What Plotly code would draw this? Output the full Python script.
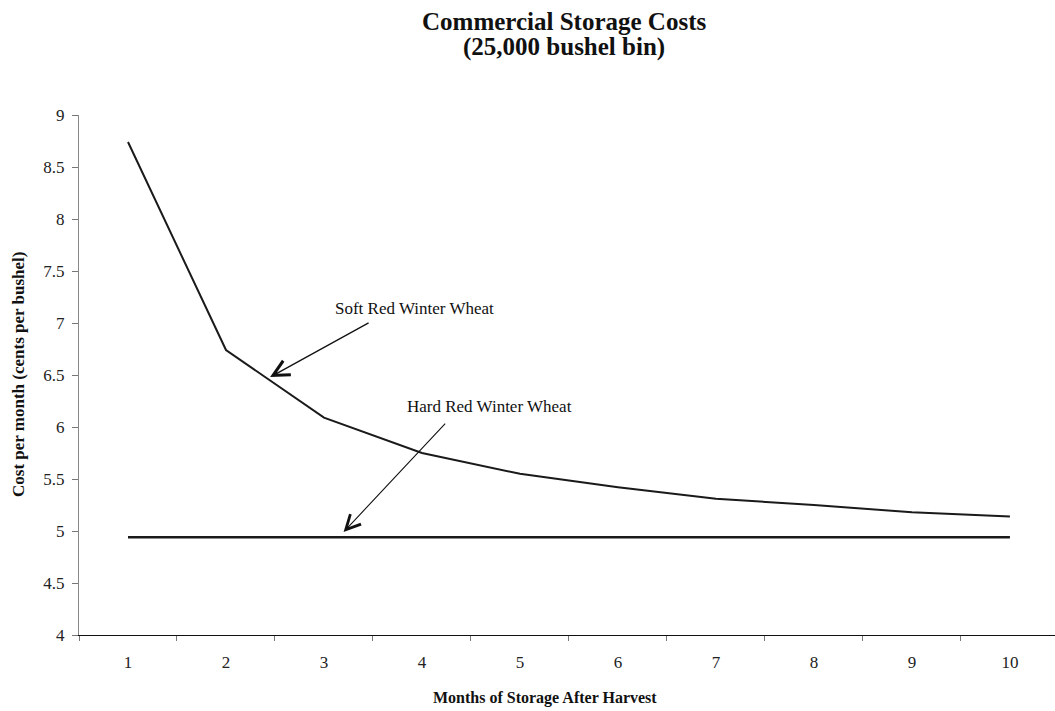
import plotly.graph_objects as go

# months of storage after harvest
months = ["1", "2", "3", "4", "5", "6", "7", "8", "9", "10"]
# cents per bushel per month
soft_red = [8.74, 6.74, 6.09, 5.75, 5.55, 5.42, 5.31, 5.25, 5.18, 5.14]
hard_red = [4.94, 4.94, 4.94, 4.94, 4.94, 4.94, 4.94, 4.94, 4.94, 4.94]

serif = "Liberation Serif, Times New Roman, serif"

fig = go.Figure()
fig.add_trace(go.Scatter(x=months, y=soft_red, mode="lines",
                         line=dict(color="#1a1a1a", width=2), name="Soft Red Winter Wheat"))
fig.add_trace(go.Scatter(x=months, y=hard_red, mode="lines",
                         line=dict(color="#1a1a1a", width=2.5), name="Hard Red Winter Wheat"))

# labels with pointer arrows
fig.add_annotation(x=1.45, y=6.48, text="", showarrow=True, arrowhead=5, arrowsize=2.4,
                   arrowwidth=1.3, arrowcolor="#111", ax=100, ay=-55)
fig.add_annotation(x=1.45, y=6.48, text="Soft Red Winter Wheat", showarrow=False,
                   xshift=144, yshift=69, font=dict(family=serif, size=17, color="#111"))
fig.add_annotation(x=2.2, y=4.99, text="", showarrow=True, arrowhead=5, arrowsize=2.6,
                   arrowwidth=1.1, arrowcolor="#111", ax=103, ay=-110)
fig.add_annotation(x=2.2, y=4.99, text="Hard Red Winter Wheat", showarrow=False,
                   xshift=146, yshift=126, font=dict(family=serif, size=17, color="#111"))

# two-line title
fig.add_annotation(xref="paper", yref="paper", x=0.497, y=1.179, yanchor="middle",
                   showarrow=False, text="<b>Commercial Storage Costs</b>",
                   font=dict(family=serif, size=25, color="#111"))
fig.add_annotation(xref="paper", yref="paper", x=0.497, y=1.131, yanchor="middle",
                   showarrow=False, text="<b>(25,000 bushel bin)</b>",
                   font=dict(family=serif, size=25, color="#111"))

# axis titles
fig.add_annotation(xref="paper", yref="paper", x=0.477, y=-0.121, yanchor="middle",
                   showarrow=False, text="<b>Months of Storage After Harvest</b>",
                   font=dict(family=serif, size=16, color="#111"))
fig.add_annotation(xref="paper", yref="paper", x=-0.0625, y=0.5, xanchor="center",
                   yanchor="middle", textangle=-90, showarrow=False,
                   text="<b>Cost per month (cents per bushel)</b>",
                   font=dict(family=serif, size=17, color="#111"))

fig.update_layout(
    width=1055, height=711,
    margin=dict(l=79, r=0, t=115, b=76),
    paper_bgcolor="white", plot_bgcolor="white",
    showlegend=False,
    xaxis=dict(type="category", range=[-0.5, 9.46], tickson="boundaries",
               ticks="outside", ticklen=5, tickcolor="#777", automargin=False,
               showline=True, linecolor="#111", linewidth=1.3,
               showgrid=False, zeroline=False, ticklabelstandoff=11,
               tickfont=dict(family=serif, size=17, color="#222")),
    yaxis=dict(range=[4, 9], dtick=0.5, ticks="outside", ticklen=6, tickcolor="#777",
               showline=True, linecolor="#888", linewidth=1.3, automargin=False,
               showgrid=False, zeroline=False, ticklabelstandoff=4,
               tickfont=dict(family=serif, size=17, color="#222")),
)

fig.write_html("out.html", config={"displayModeBar": False},
               post_script="document.body.style.margin='0';")
